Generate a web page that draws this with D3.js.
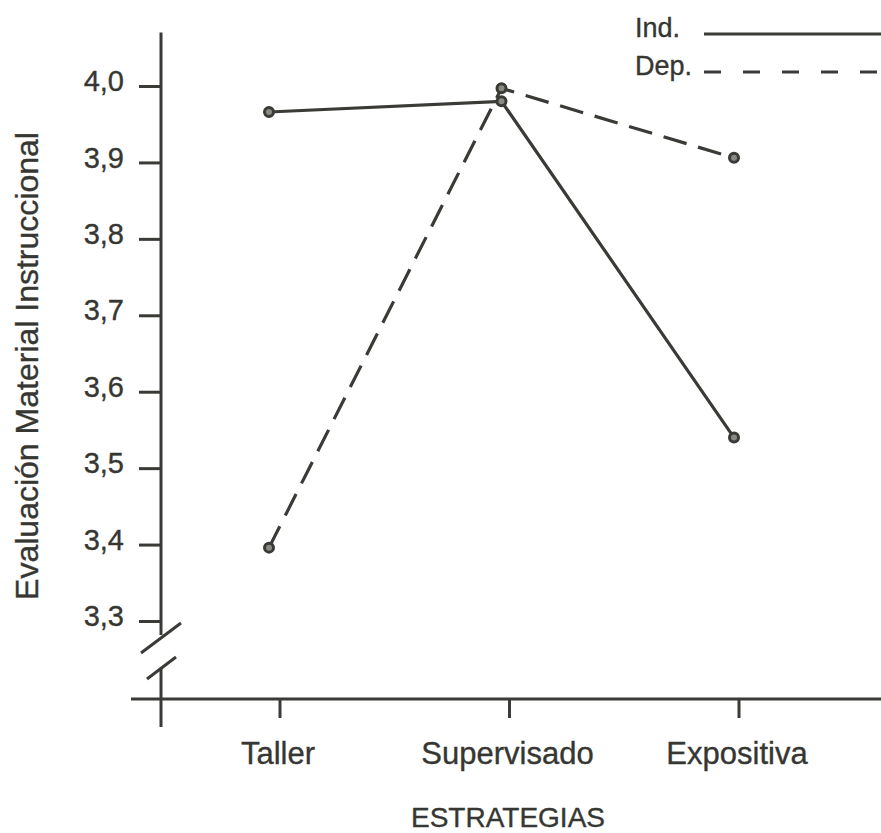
<!DOCTYPE html>
<html>
<head>
<meta charset="utf-8">
<script src="https://cdn.jsdelivr.net/npm/d3@7"></script>
<style>
  body { margin: 0; background: #fff; }
  svg { display: block; }
  text { font-family: "Liberation Sans", Arial, sans-serif; fill: #363632; stroke: #363632; stroke-width: 0.35px; }
</style>
</head>
<body>
<svg width="881" height="833"></svg>
<script>
// Данные графика
const categories = ["Taller", "Supervisado", "Expositiva"];
const indValues = [3.966, 3.980, 3.540];
const depValues = [3.396, 3.997, 3.906];
const yTicks = [3.3, 3.4, 3.5, 3.6, 3.7, 3.8, 3.9, 4.0];
const seriesNames = ["Ind.", "Dep."];

const ink = "#3a3a36";
const svg = d3.select("svg");

// Шкалы
const scY = d3.scaleLinear().domain([3.3, 4.0]).range([621, 86]);
const scXTick = d3.scalePoint().domain(categories).range([280, 739]);
const scXPoint = d3.scalePoint().domain(categories).range([269, 734]);

const axisX0 = 161;   // позиция оси Y
const baseY = 699;    // позиция оси X

// Ось Y с делениями
const gY = svg.append("g")
  .attr("transform", `translate(${axisX0},0)`)
  .call(d3.axisLeft(scY).tickValues(yTicks).tickSize(22).tickPadding(15)
    .tickFormat(d => d3.format(".1f")(d).replace(".", ",")));
gY.select(".domain").remove();
gY.selectAll(".tick line").attr("stroke", ink).attr("stroke-width", 3);
gY.selectAll(".tick text").style("font-size", "29px").attr("dy", "0.16em").attr("fill", "#363632");

// Вертикальная линия оси с разрывом
const yTop = scY(4.07);
const yBreak = scY(3.3);
svg.append("line").attr("x1", axisX0).attr("x2", axisX0)
  .attr("y1", yTop).attr("y2", yBreak + 14)
  .attr("stroke", ink).attr("stroke-width", 3);
svg.append("line").attr("x1", axisX0).attr("x2", axisX0)
  .attr("y1", yBreak + 47).attr("y2", baseY + 28)
  .attr("stroke", ink).attr("stroke-width", 3);
// Знак разрыва
svg.append("line").attr("x1", axisX0 - 20).attr("y1", yBreak + 32)
  .attr("x2", axisX0 + 20).attr("y2", yBreak + 2)
  .attr("stroke", ink).attr("stroke-width", 3);
svg.append("line").attr("x1", axisX0 - 14).attr("y1", yBreak + 58)
  .attr("x2", axisX0 + 15).attr("y2", yBreak + 36)
  .attr("stroke", ink).attr("stroke-width", 3);

// Ось X
svg.append("line").attr("x1", 131).attr("x2", 881)
  .attr("y1", baseY).attr("y2", baseY)
  .attr("stroke", ink).attr("stroke-width", 3);
svg.selectAll(".xtick")
  .data(categories).enter().append("line")
  .attr("class", "xtick")
  .attr("x1", d => scXTick(d)).attr("x2", d => scXTick(d))
  .attr("y1", baseY).attr("y2", baseY + 19)
  .attr("stroke", ink).attr("stroke-width", 3);
svg.selectAll(".xlabel")
  .data(categories).enter().append("text")
  .attr("class", "xlabel")
  .attr("x", d => scXTick(d) - 2).attr("y", 764)
  .attr("text-anchor", "middle")
  .style("font-size", "31px")
  .text(d => d);

// Подписи осей
svg.append("text")
  .attr("x", 508).attr("y", 827)
  .attr("text-anchor", "middle")
  .style("font-size", "28px")
  .text("ESTRATEGIAS");
svg.append("text")
  .attr("transform", "translate(38,366) rotate(-90)")
  .attr("text-anchor", "middle")
  .style("font-size", "32px")
  .text("Evaluación Material Instruccional");

// Линии серий
const line = d3.line()
  .x((d, i) => scXPoint(categories[i]))
  .y(d => scY(d));

svg.append("path").datum(depValues)
  .attr("fill", "none").attr("stroke", ink).attr("stroke-width", 3.2)
  .attr("stroke-dasharray", "24,12")
  .attr("d", line);
svg.append("path").datum(indValues)
  .attr("fill", "none").attr("stroke", ink).attr("stroke-width", 3.2)
  .attr("d", line);

// Точки
[indValues, depValues].forEach(vals => {
  svg.append("g").selectAll("circle")
    .data(vals).enter().append("circle")
    .attr("cx", (d, i) => scXPoint(categories[i]))
    .attr("cy", d => scY(d))
    .attr("r", 4.5)
    .attr("fill", "#8a8a84")
    .attr("stroke", ink)
    .attr("stroke-width", 3);
});

// Легенда
const legend = svg.append("g");
legend.selectAll("text")
  .data(seriesNames).enter().append("text")
  .attr("x", 635).attr("y", (d, i) => 37 + i * 38)
  .style("font-size", "27px")
  .text(d => d);
legend.append("line").attr("x1", 704).attr("x2", 881)
  .attr("y1", 34).attr("y2", 34)
  .attr("stroke", ink).attr("stroke-width", 3);
legend.append("line").attr("x1", 704).attr("x2", 881)
  .attr("y1", 72).attr("y2", 72)
  .attr("stroke", ink).attr("stroke-width", 3)
  .attr("stroke-dasharray", "17,22");
</script>
</body>
</html>
